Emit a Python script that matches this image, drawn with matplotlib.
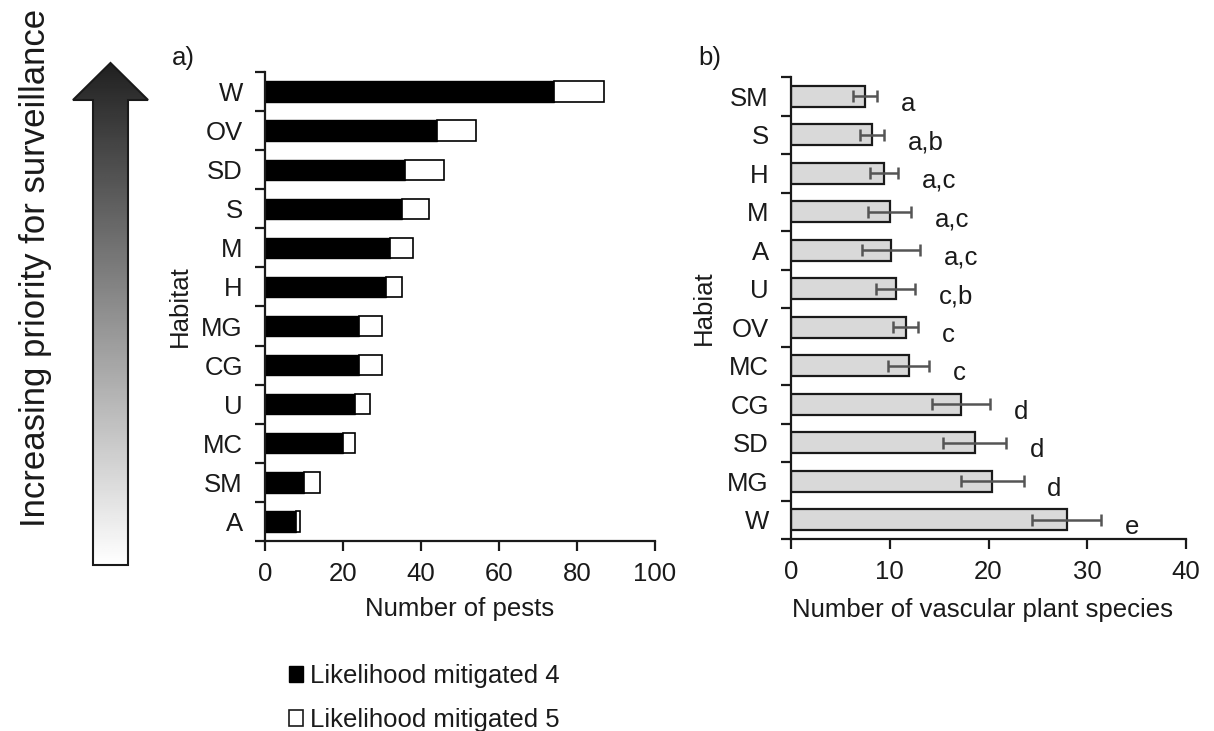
import numpy as np
import matplotlib
matplotlib.use("Agg")
import matplotlib.pyplot as plt
from matplotlib.patches import Polygon, Patch

plt.rcParams['font.family'] = ['Liberation Sans', 'DejaVu Sans']
plt.rcParams['text.color'] = '#1a1a1a'
plt.rcParams['axes.labelcolor'] = '#1a1a1a'
plt.rcParams['xtick.color'] = '#1a1a1a'
plt.rcParams['ytick.color'] = '#1a1a1a'

# panel a: pests per habitat (top to bottom)
habitats_a = ['W', 'OV', 'SD', 'S', 'M', 'H', 'MG', 'CG', 'U', 'MC', 'SM', 'A']
mitigated4 = [74, 44, 36, 35, 32, 31, 24, 24, 23, 20, 10, 8]
mitigated5 = [13, 10, 10, 7, 6, 4, 6, 6, 4, 3, 4, 1]

# panel b: vascular plant species per habitat (top to bottom)
habitats_b = ['SM', 'S', 'H', 'M', 'A', 'U', 'OV', 'MC', 'CG', 'SD', 'MG', 'W']
species_mean = [7.5, 8.2, 9.4, 10.0, 10.1, 10.6, 11.6, 11.9, 17.2, 18.6, 20.4, 27.9]
species_err = [1.25, 1.2, 1.45, 2.2, 2.95, 2.0, 1.3, 2.05, 2.95, 3.2, 3.15, 3.5]
groups = ['a', 'a,b', 'a,c', 'a,c', 'a,c', 'c,b', 'c', 'c', 'd', 'd', 'd', 'e']

W, H = 1214, 731
fig = plt.figure(figsize=(W / 100, H / 100), dpi=100)

FS = 18.5


def style_axes(ax, n):
    for s in ['top', 'right']:
        ax.spines[s].set_visible(False)
    for s in ['left', 'bottom']:
        ax.spines[s].set_linewidth(1.6)
        ax.spines[s].set_color('#1a1a1a')
    ax.set_ylim(n - 0.5, -0.5)
    ax.set_yticks(np.arange(n))
    ax.set_yticks(np.arange(n + 1) - 0.5, minor=True)
    ax.tick_params(axis='y', which='major', length=0, pad=16, labelsize=FS)
    ax.tick_params(axis='y', which='minor', length=7, width=1.6, color='#1a1a1a')
    ax.tick_params(axis='x', which='major', length=7, width=1.6, labelsize=FS, pad=8)


# panel a
axa = fig.add_axes([265 / W, 1 - 541 / H, 390 / W, 469 / H])
ya = np.arange(len(habitats_a))
axa.barh(ya, mitigated4, height=0.52, color='black', edgecolor='black', linewidth=1)
axa.barh(ya, mitigated5, left=mitigated4, height=0.52, color='white',
         edgecolor='black', linewidth=1.2)
style_axes(axa, len(habitats_a))
axa.set_yticklabels(habitats_a)
axa.set_xlim(0, 100)
axa.set_xticks(range(0, 101, 20))
axa.set_xlabel('Number of pests', fontsize=FS, labelpad=8)
axa.set_ylabel('Habitat', fontsize=FS)
axa.yaxis.set_label_coords(-0.187, 0.5)
fig.text(172 / W, 1 - 58 / H, 'a)', fontsize=FS, va='center')

# panel b
axb = fig.add_axes([791 / W, 1 - 539 / H, 395 / W, 462 / H])
yb = np.arange(len(habitats_b))
axb.barh(yb, species_mean, height=0.55, color='#d9d9d9', edgecolor='#1a1a1a',
         linewidth=1.6, xerr=species_err,
         error_kw=dict(ecolor='#555555', elinewidth=1.8, capsize=4, capthick=1.8))
for y, m, e, g in zip(yb, species_mean, species_err, groups):
    axb.text(m + e + 2.4, y + 0.2, g, fontsize=FS, va='center', ha='left')
style_axes(axb, len(habitats_b))
axb.set_yticklabels(habitats_b)
axb.set_xlim(0, 40)
axb.set_xticks(range(0, 41, 10))
axb.set_xlabel('Number of vascular plant species', fontsize=FS)
axb.xaxis.set_label_coords(0.485, -0.127)
axb.set_ylabel('Habiat', fontsize=FS)
axb.yaxis.set_label_coords(-0.19, 0.5)
fig.text(698 / W, 1 - 58 / H, 'b)', fontsize=FS, va='center')

# gradient arrow on the left
ax0 = fig.add_axes([0, 0, 1, 1], zorder=-1)
ax0.set_xlim(0, W)
ax0.set_ylim(H, 0)
ax0.axis('off')
arrow_pts = [(93, 565), (128, 565), (128, 100), (148, 100), (110.5, 63),
             (73, 100), (93, 100)]
poly = Polygon(arrow_pts, closed=True, facecolor='none', edgecolor='#1a1a1a',
               linewidth=1.5)
ax0.add_patch(poly)
grad = np.linspace(0.13, 1.0, 256).reshape(-1, 1)
im = ax0.imshow(grad, cmap='gray', vmin=0, vmax=1, aspect='auto',
                extent=(73, 148, 565, 63), interpolation='bilinear')
im.set_clip_path(poly)
ax0.text(36, 268, 'Increasing priority for surveillance', fontsize=25,
         rotation=90, ha='center', va='center')

# legend
handles = [Patch(facecolor='black', edgecolor='black'),
           Patch(facecolor='white', edgecolor='#1a1a1a', linewidth=1.2)]
fig.legend(handles, ['Likelihood mitigated 4', 'Likelihood mitigated 5'],
           loc='upper left', bbox_to_anchor=(289 / W, 1 - 664 / H), frameon=False,
           fontsize=FS, handlelength=0.55, handleheight=0.55, handletextpad=0.25,
           labelspacing=0.78, borderaxespad=0, borderpad=0)

fig.savefig('out.png', dpi=100)
